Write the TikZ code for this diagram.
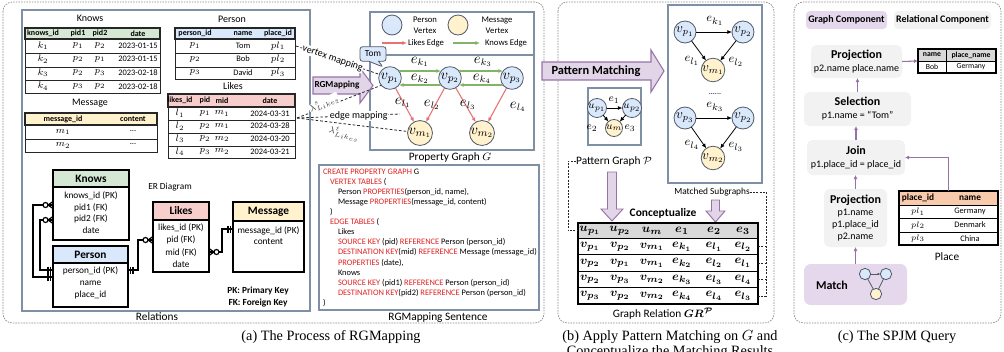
\documentclass[tikz,border=0pt]{standalone}
\usepackage{amsmath,bm}
\usepackage[no-math]{fontspec}
\setmainfont{Carlito}
\newfontfamily\capfont{Liberation Serif}
\usetikzlibrary{arrows.meta,shapes.callouts,fit,calc}
\definecolor{pblue}{HTML}{DAE8FC}
\definecolor{myel}{HTML}{FFF2CC}
\definecolor{kgreen}{HTML}{D5E8D4}
\definecolor{lred}{HTML}{F8CECC}
\definecolor{likeR}{HTML}{E57373}
\definecolor{knowG}{HTML}{82B366}
\definecolor{purF}{HTML}{E1D5E7}
\definecolor{purF2}{HTML}{E6D8EC}
\definecolor{purD}{HTML}{9673A6}
\definecolor{bordB}{HTML}{7F8FA6}
\definecolor{grayF}{HTML}{F2F2F2}
\definecolor{hdrG}{HTML}{D9D9D9}
\definecolor{orgF}{HTML}{F8CBAD}
\definecolor{sqlR}{HTML}{E02020}
\definecolor{vbord}{HTML}{505A68}
\newcommand\kw[1]{\textcolor{sqlR}{#1}}
\newcommand\fsz[2]{\fontsize{#1}{#2}\selectfont}
\begin{document}
\begin{tikzpicture}[x=0.75pt,y=-0.75pt,
 every node/.style={inner sep=0pt,outer sep=0pt},
 panel/.style={draw=black!45, dash pattern=on 1.2pt off 0.8pt, line width=0.5pt, rounded corners=7pt},
 sbox/.style={draw=bordB, line width=0.9pt},
 tb/.style={draw=black!85, line width=0.5pt},
 tbh/.style={draw=black!85, line width=0.9pt},
 ttl/.style={font=\fsz{7.5}{9}},
 lbl/.style={font=\fsz{8.5}{10}},
 hd/.style={font=\fsz{6}{7}\bfseries},
 celltxt/.style={font=\fsz{6.3}{7.5}},
 cellm/.style={font=\fsz{7}{8}},
 pv/.style={circle, draw=vbord, fill=pblue, line width=0.6pt},
 mv/.style={circle, draw=vbord, fill=myel, line width=0.6pt},
 gv/.style={minimum size=17pt, font=\fsz{11}{13}},
 msv/.style={minimum size=16.5pt, font=\fsz{10}{12}},
 pgv/.style={minimum size=12.75pt, font=\fsz{8}{9}},
 elab/.style={font=\fsz{10.5}{12}},
 mel/.style={font=\fsz{9.5}{11}},
 pel/.style={font=\fsz{8.5}{10}},
 knowE/.style={draw=knowG, line width=0.8pt, -{Latex[length=3.5pt,width=3pt]}},
 likeE/.style={draw=likeR, line width=0.8pt, -{Latex[length=3.5pt,width=3pt]}},
 blk/.style={draw=black, line width=0.6pt, -{Latex[length=3.5pt,width=3pt]}},
 mapln/.style={draw=black!85, dash pattern=on 2pt off 1.5pt, line width=0.6pt},
 mapdot/.style={draw=black!85, dash pattern=on 1.5pt off 1pt, line width=0.6pt},
 erl/.style={draw=black, line width=0.9pt},
 sqltxt/.style={anchor=west, font=\fsz{6.3}{7.5}},
 grc/.style={font=\fsz{9.5}{11}},
 gbox/.style={fill=grayF, rounded corners=4pt, align=center, font=\fsz{7.5}{9.75}},
 parr/.style={draw=purD, line width=0.8pt, -{Latex[length=3pt,width=3pt]}},
 bigarr/.style={fill=purF, draw=purD, line width=0.8pt},
 captxt/.style={font=\capfont\fsz{10.7}{13}},
 lam/.style={font=\fsz{7}{8}, text=black!75},
 zmany/.pic={
   \draw[erl] (0,-3.5) -- (5,0) -- (0,3.5) (0,0) -- (5,0);
   \draw[erl, fill=white] (7.5,0) circle[radius=2.5];
 },
 onebar/.pic={
   \draw[erl] (2.5,-3.5) -- (2.5,3.5) (5,-3.5) -- (5,3.5);
 }
]
\useasboundingbox (0,0) rectangle (1004,351);
% ---------------- panels
\draw[panel] (3,2) rectangle (544,323);
\draw[panel] (558,2) rectangle (774,323);
\draw[panel] (794,2) rectangle (1001,323);
% ---------------- (a) relations
\draw[sbox] (22,10) rectangle (310,311);
\node[lbl] (relL) at (157,317) {Relations};
% Knows table
\node[ttl] (knT) at (90,18) {Knows};
\fill[kgreen] (25,28) rectangle (160,39);
\draw[tb] (25,28) rectangle (160,93);
\draw[tbh] (25,28) rectangle (160,39);
\foreach \y in {53,67,80} \draw[tb] (25,\y) -- (160,\y);
\foreach \t/\x [count=\i] in {knows\_id/43, pid1/78, pid2/100, date/138}
  \node[hd] (knh-\i) at (\x,33.5) {\t};
\foreach \a/\b/\c/\d [count=\i] in {k_1/p_1/p_2/2023-01-15, k_2/p_2/p_1/2023-01-15, k_3/p_2/p_3/2023-02-18, k_4/p_3/p_2/2023-02-18} {
  \pgfmathsetmacro\yy{39+13.5*(\i-0.5)}
  \node[cellm] (kn-\i-1) at (43,\yy) {$\a$};
  \node[cellm] (kn-\i-2) at (78,\yy) {$\b$};
  \node[cellm] (kn-\i-3) at (100,\yy) {$\c$};
  \node[celltxt] (kn-\i-4) at (138,\yy) {\d};
}
% Message table
\node[ttl] (msT) at (90,103) {Message};
\fill[myel] (25,113) rectangle (157,125);
\draw[tb] (25,113) rectangle (157,152);
\draw[tbh] (25,113) rectangle (157,125);
\draw[tb] (25,139) -- (157,139);
\node[hd] (msh-1) at (63,119) {message\_id};
\node[hd] (msh-2) at (133,119) {content};
\node[cellm] (ms-1-1) at (63,132) {$m_1$};
\node[celltxt] (ms-1-2) at (133,131) {...};
\node[cellm] (ms-2-1) at (63,145.5) {$m_2$};
\node[celltxt] (ms-2-2) at (133,144.5) {...};
% Person table
\node[ttl] (peT) at (232,19) {Person};
\fill[pblue] (175,28) rectangle (295,39);
\draw[tb] (175,28) rectangle (295,79);
\draw[tbh] (175,28) rectangle (295,39);
\foreach \y in {53,67} \draw[tb] (175,\y) -- (295,\y);
\foreach \t/\x [count=\i] in {person\_id/195, name/243, place\_id/278}
  \node[hd] (peh-\i) at (\x,33.5) {\t};
\foreach \a/\b/\c [count=\i] in {p_1/Tom/pl_1, p_2/Bob/pl_2, p_3/David/pl_3} {
  \pgfmathsetmacro\yy{39+13.4*(\i-0.5)}
  \node[cellm] (pe-\i-1) at (195,\yy) {$\a$};
  \node[celltxt] (pe-\i-2) at (243,\yy) {\b};
  \node[cellm] (pe-\i-3) at (278,\yy) {$\c$};
}
% Likes table
\node[ttl] (liT) at (233,86) {Likes};
\fill[lred] (168,94) rectangle (295,107);
\draw[tb] (168,94) rectangle (295,158);
\draw[tbh] (168,94) rectangle (295,107);
\foreach \y in {120,133,146} \draw[tb] (168,\y) -- (295,\y);
\foreach \t/\x [count=\i] in {likes\_id/180, pid/205, mid/222, date/270}
  \node[hd] (lih-\i) at (\x,100.5) {\t};
\foreach \a/\b/\c/\d [count=\i] in {l_1/p_1/m_1/2024-03-31, l_2/p_2/m_1/2024-03-28, l_3/p_2/m_2/2024-03-20, l_4/p_3/m_2/2024-03-21} {
  \pgfmathsetmacro\yy{107+12.75*(\i-0.5)}
  \node[cellm] (li-\i-1) at (180,\yy) {$\a$};
  \node[cellm] (li-\i-2) at (205,\yy) {$\b$};
  \node[cellm] (li-\i-3) at (222,\yy) {$\c$};
  \node[celltxt] (li-\i-4) at (270,\yy) {\d};
}
% ---------------- ER diagram
\node[font=\fsz{7}{8}] (erL) at (170,187) {ER Diagram};
\fill[kgreen] (53,170) rectangle (129,187);
\fill[pblue] (53,246) rectangle (128,263);
\fill[lred] (153,202) rectangle (209,220);
\fill[myel] (233,202) rectangle (304,221);
\node[fit={(53,170)(129,240)}, draw, line width=0.9pt] (erK) {};
\node[fit={(53,246)(128,307)}, draw, line width=0.9pt] (erP) {};
\node[fit={(153,202)(209,272)}, draw, line width=0.9pt] (erLk) {};
\node[fit={(233,202)(304,272)}, draw, line width=0.9pt] (erM) {};
\draw[line width=0.9pt] (53,187) -- (129,187) (53,263) -- (128,263) (153,220) -- (209,220) (233,221) -- (304,221);
\node[font=\fsz{8.5}{10}\bfseries] (erKh) at (91,178.5) {Knows};
\node[font=\fsz{8.5}{10}\bfseries] (erPh) at (90.5,254.5) {Person};
\node[font=\fsz{8.5}{10}\bfseries] (erLh) at (181,211) {Likes};
\node[font=\fsz{8.5}{10}\bfseries] (erMh) at (268.5,211.5) {Message};
\node[font=\fsz{7}{8.8}, align=center] (erKb) at (91,212.5) {knows\_id (PK)\\pid1 (FK)\\pid2 (FK)\\date};
\node[font=\fsz{7}{9}, align=center] (erPb) at (90.5,283) {person\_id (PK)\\name\\place\_id};
\node[font=\fsz{7}{9.2}, align=center] (erLb) at (181,245.5) {likes\_id (PK)\\pid (FK)\\mid (FK)\\date};
\node[font=\fsz{7}{8.3}, align=center] (erMb) at (268.5,235.5) {message\_id (PK)\\content};
\node[font=\fsz{7}{9}\bfseries, align=center] (pkfk) at (258,297) {PK: Primary Key\\FK: Foreign Key};
\draw[erl] (erK.west |- 0,205) -- (33,205) |- (erP.west |- 0,277);
\draw[erl] (erK.west |- 0,220) -- (40,220) |- (erP.west |- 0,270);
\draw[erl] (erP.east |- 0,270) -- (138,270) |- (erLk.west |- 0,240);
\draw[erl] (erLk.east |- 0,252) -- (222,252) |- (erM.west |- 0,229);
\pic[xscale=-1] at (erK.west |- 0,205) {zmany};
\pic[xscale=-1] at (erK.west |- 0,220) {zmany};
\pic[xscale=-1] at (erP.west |- 0,277) {onebar};
\pic[xscale=-1] at (erP.west |- 0,270) {onebar};
\pic at (erP.east |- 0,270) {onebar};
\pic[xscale=-1] at (erLk.west |- 0,240) {zmany};
\pic at (erLk.east |- 0,252) {zmany};
\pic[xscale=-1] at (erM.west |- 0,229) {onebar};
% ---------------- property graph
\draw[sbox] (370,12) rectangle (534,150);
\draw[sbox] (370,55) -- (534,55);
\node[lbl] (pgL) at (450,157) {Property Graph $G$};
\node[pv, minimum size=15pt] (lgP) at (392,25) {};
\node[font=\fsz{6.5}{8}, align=center] (lgPt) at (425,25) {Person\\Vertex};
\node[mv, minimum size=15pt] (lgM) at (458,25) {};
\node[font=\fsz{6.5}{8}, align=center] (lgMt) at (497,25) {Message\\Vertex};
\coordinate (lgL1) at (382,43); \coordinate (lgL2) at (407,43);
\draw[likeE] (lgL1) -- (lgL2);
\node[font=\fsz{6.5}{8}] (lgLt) at (426,43) {Likes Edge};
\coordinate (lgK1) at (453,43); \coordinate (lgK2) at (480,43);
\draw[knowE] (lgK1) -- (lgK2);
\node[font=\fsz{6.5}{8}] (lgKt) at (506,43) {Knows Edge};
\node[pv, gv] (vp1) at (390,78) {$v_{p_1}$};
\node[pv, gv] (vp2) at (450,78) {$v_{p_2}$};
\node[pv, gv] (vp3) at (512,78) {$v_{p_3}$};
\node[mv, gv] (vm1) at (420,133) {$v_{m_1}$};
\node[mv, gv] (vm2) at (482,133) {$v_{m_2}$};
\draw[knowE] (vp1.38) -- (vp2.142);
\draw[knowE] (vp2.218) -- (vp1.322);
\draw[knowE] (vp2.38) -- (vp3.142);
\draw[knowE] (vp3.218) -- (vp2.322);
\draw[likeE] (vp1) -- (vm1);
\draw[likeE] (vp2) -- (vm1);
\draw[likeE] (vp2) -- (vm2);
\draw[likeE] (vp3) -- (vm2);
\node[elab] (ek1) at (420,62) {$e_{k_1}$};
\node[elab] (ek2) at (420,79) {$e_{k_2}$};
\node[elab] (ek3) at (483,62) {$e_{k_3}$};
\node[elab] (ek4) at (482,79) {$e_{k_4}$};
\node[elab] (el1) at (403,103) {$e_{l_1}$};
\node[elab] (el2) at (432,105) {$e_{l_2}$};
\node[elab] (el3) at (468,105) {$e_{l_3}$};
\node[elab] (el4) at (518,107) {$e_{l_4}$};
% RGMapping arrow
\draw[bigarr] (313,77) -- (360,77) -- (360,68) -- (373,85.5) -- (360,103) -- (360,94) -- (313,94) -- cycle;
\node[font=\fsz{6.9}{8}\bfseries] (rgm) at (337,85.5) {RGMapping};
% mappings
\coordinate (perR) at (296,46);
\draw[mapln] (perR) -- (vp1) node[pos=0.44, sloped, fill=white, inner sep=0.5pt, font=\fsz{7.5}{9}] (vmapT) {vertex mapping};
\node[rectangle callout, rounded corners=2pt, draw=vbord, fill=pblue, line width=0.6pt, minimum width=19.5pt, minimum height=11pt, font=\fsz{7}{8}, callout absolute pointer={(383,67)}] (tom) at (373,54) {Tom};
\coordinate (likR) at (297,118);
\coordinate (emEnd) at (400,114);
\draw[mapln] (likR) -- (vp1.220);
\draw[mapln] (likR) -- (vm1);
\node[lam, rotate=27, fill=white, inner sep=0.3pt] (lamS) at (324,103.5) {$\lambda^{s}_{Likes}$};
\node[lam, rotate=-14, fill=white, inner sep=0.3pt] (lamT) at (344,133.5) {$\lambda^{t}_{Likes}$};
\draw[mapln] (likR) -- (emEnd) node[pos=0.6, fill=white, inner sep=0.5pt, font=\fsz{7.5}{9}] (emT) {edge mapping};
% sentence
\draw[sbox] (319,165) rectangle (539,310);
\node[lbl] (sentL) at (438,318) {RGMapping Sentence};
\node[sqltxt] (s1) at (323,172) {\kw{CREATE PROPERTY GRAPH} G};
\node[sqltxt] (s2) at (330,182) {\kw{VERTEX TABLES} (};
\node[sqltxt] (s3) at (338,192) {Person \kw{PROPERTIES}(person\_id, name),};
\node[sqltxt] (s4) at (338,202) {Message \kw{PROPERTIES}(message\_id, content)};
\node[sqltxt] (s5) at (330,212) {)};
\node[sqltxt] (s6) at (330,222) {\kw{EDGE TABLES} (};
\node[sqltxt] (s7) at (338,232) {Likes};
\node[sqltxt] (s8) at (338,242) {\kw{SOURCE KEY} (pid) \kw{REFERENCE} Person (person\_id)};
\node[sqltxt] (s9) at (338,252) {\kw{DESTINATION KEY}(mid) \kw{REFERENCE} Message (message\_id)};
\node[sqltxt] (s10) at (338,263) {\kw{PROPERTIES} (date),};
\node[sqltxt] (s11) at (338,273) {Knows};
\node[sqltxt] (s12) at (338,283) {\kw{SOURCE KEY} (pid1) \kw{REFERENCE} Person (person\_id)};
\node[sqltxt] (s13) at (338,293) {\kw{DESTINATION KEY}(pid2) \kw{REFERENCE} Person (person\_id)};
\node[sqltxt] (s14) at (323,303) {)};
% ---------------- (b)
\draw[bigarr] (542,62) -- (651,62) -- (651,50) -- (664,71) -- (651,92) -- (651,80) -- (542,80) -- cycle;
\node[font=\fsz{9.3}{11}\bfseries] (pmT) at (596,71) {Pattern Matching};
% pattern graph
\draw[sbox] (588,88) rectangle (641,145);
\node[pv, pgv] (up1) at (597,108) {$u_{p_1}$};
\node[pv, pgv] (up2) at (632,108) {$u_{p_2}$};
\node[mv, pgv] (um) at (614,128) {$u_m$};
\draw[blk] (up1) -- (up2);
\draw[blk] (up1) -- (um);
\draw[blk] (up2) -- (um);
\node[pel] (pe1) at (614,100) {$e_1$};
\node[pel] (pe2) at (592,128) {$e_2$};
\node[pel] (pe3) at (630,128) {$e_3$};
\node[font=\fsz{8.5}{10}] (pgpL) at (614,161) {Pattern Graph $\mathcal{P}$};
% matched subgraphs
\draw[sbox] (668,5) rectangle (762,183);
\node[pv, msv] (a1) at (685,32) {$v_{p_1}$};
\node[pv, msv] (a2) at (743,32) {$v_{p_2}$};
\node[mv, msv] (a3) at (713,70) {$v_{m_1}$};
\draw[blk] (a1) -- (a2);
\draw[blk] (a1) -- (a3);
\draw[blk] (a2) -- (a3);
\node[mel] (ae1) at (715,21) {$e_{k_1}$};
\node[mel] (ae2) at (692,61) {$e_{l_1}$};
\node[mel] (ae3) at (736,62) {$e_{l_2}$};
\node[font=\fsz{6}{7}] (dots) at (715,94) {......};
\node[pv, msv] (b1) at (685,118) {$v_{p_3}$};
\node[pv, msv] (b2) at (743,118) {$v_{p_2}$};
\node[mv, msv] (b3) at (713,158) {$v_{m_2}$};
\draw[blk] (b1) -- (b2);
\draw[blk] (b1) -- (b3);
\draw[blk] (b2) -- (b3);
\node[mel] (be1) at (715,107) {$e_{k_3}$};
\node[mel] (be2) at (692,145) {$e_{l_4}$};
\node[mel] (be3) at (736,147) {$e_{l_3}$};
\node[font=\fsz{7}{8.5}] (msL) at (712,192) {Matched Subgraphs};
% down arrows
\draw[bigarr, line width=0.7pt] (607.5,172) -- (616.5,172) -- (616.5,209) -- (623,209) -- (612,221) -- (601,209) -- (607.5,209) -- cycle;
\draw[bigarr, line width=0.7pt] (711.5,200) -- (719.5,200) -- (719.5,211) -- (725,211) -- (715.5,222) -- (706,211) -- (711.5,211) -- cycle;
\node[font=\fsz{8.6}{10}\bfseries] (concT) at (663,213) {Conceptualize};
% graph relation table
\fill[hdrG] (578,223) rectangle (758,238.5);
\node[fit={(578,223)(758,304)}, draw, line width=0.8pt] (grT) {};
\foreach \y in {238.5,254.9,271.3,287.7} \draw[line width=0.8pt] (578,\y) -- (758,\y);
\foreach \t/\x [count=\i] in {u_{p_1}/590, u_{p_2}/620, u_m/652, e_1/682, e_2/714, e_3/743}
  \node[grc] (grh-\i) at (\x,230.75) {$\bm{\t}$};
\foreach \qa/\qb/\qc/\qd/\qe/\qf [count=\i] in {
  v_{p_1}/v_{p_2}/v_{m_1}/e_{k_1}/e_{l_1}/e_{l_2},
  v_{p_2}/v_{p_1}/v_{m_1}/e_{k_2}/e_{l_2}/e_{l_1},
  v_{p_2}/v_{p_3}/v_{m_2}/e_{k_3}/e_{l_3}/e_{l_4},
  v_{p_3}/v_{p_2}/v_{m_2}/e_{k_4}/e_{l_4}/e_{l_3}} {
  \pgfmathsetmacro\yy{238.5+16.4*(\i-0.5)}
  \node[grc] (gr-\i-1) at (590,\yy) {$\bm{\qa}$};
  \node[grc] (gr-\i-2) at (620,\yy) {$\bm{\qb}$};
  \node[grc] (gr-\i-3) at (652,\yy) {$\bm{\qc}$};
  \node[grc] (gr-\i-4) at (682,\yy) {$\bm{\qd}$};
  \node[grc] (gr-\i-5) at (714,\yy) {$\bm{\qe}$};
  \node[grc] (gr-\i-6) at (743,\yy) {$\bm{\qf}$};
}
\node[lbl] (grL) at (663,314) {Graph Relation $\bm{GR}^{\bm{\mathcal{P}}}$};
% brackets
\draw[mapdot] (pgpL.west) -- (568,161) |- (grT.west |- 0,230.75);
\draw[mapdot] (msL.east) -| (766,295.9) -- (grT.east |- 0,295.9);
\foreach \y in {246.7,263.1,279.5} \draw[mapdot] (grT.east |- 0,\y) -- (766,\y);
% ---------------- (c)
\node[font=\fsz{7.5}{9}\bfseries, fill=purF2, rounded corners=3pt, minimum width=60.75pt, minimum height=13.5pt] (gc) at (846.5,20) {Graph Component};
\node[font=\fsz{7.5}{9}\bfseries, fill=grayF, rounded corners=3pt, minimum width=72.75pt, minimum height=13.5pt] (rc) at (942.5,20) {Relational Component};
\node[gbox, minimum width=68.25pt, minimum height=24.75pt] (proj1) at (856.5,61.5) {{\fsz{9}{9.75}\bfseries Projection}\\p2.name place.name};
\node[gbox, minimum width=80.25pt, minimum height=25.5pt] (sel) at (857.5,109) {{\fsz{9}{9.75}\bfseries Selection}\\p1.name = “Tom”};
\node[gbox, minimum width=73.5pt, minimum height=26.25pt] (join) at (856,157.5) {{\fsz{9}{9.75}\bfseries Join}\\p1.place\_id = place\_id};
\node[gbox, font=\fsz{7.5}{9}, minimum width=47.25pt, minimum height=43.5pt] (proj2) at (855.5,218) {{\fsz{9}{9}\bfseries Projection}\\p1.name\\p1.place\_id\\p2.name};
\node[fill=purF2, rounded corners=5pt, minimum width=77.25pt, minimum height=30.75pt] (match) at (855.5,284.5) {};
\node[font=\fsz{9}{10}\bfseries] (matchT) at (832,285) {Match};
\node[pv, minimum size=8.5pt] (mg1) at (865,274) {};
\node[pv, minimum size=8.5pt] (mg2) at (886,274) {};
\node[mv, minimum size=8.5pt] (mg3) at (876,294) {};
\draw[draw=vbord, line width=0.6pt, -{Latex[length=2pt,width=2pt]}] (mg1) -- (mg2);
\draw[draw=vbord, line width=0.6pt] (mg1) -- (mg3) (mg2) -- (mg3);
% result table
\fill[hdrG] (918,49) rectangle (996,61);
\node[fit={(918,49)(996,73)}, draw, line width=0.8pt] (resT) {};
\draw[line width=0.6pt] (918,61) -- (996,61) (946,49) -- (946,73);
\node[font=\fsz{5.8}{7}\bfseries] (rh1) at (932,55) {name};
\node[font=\fsz{5.8}{7}\bfseries] (rh2) at (971,55) {place\_name};
\node[font=\fsz{5.8}{7}] (rc1) at (932,67) {Bob};
\node[font=\fsz{5.8}{7}] (rc2) at (971,67) {Germany};
% place table
\fill[orgF] (899,191) rectangle (998,205);
\node[fit={(899,191)(998,245)}, draw, line width=0.8pt] (placeT) {};
\foreach \y in {205,218.5,232} \draw[line width=0.6pt] (899,\y) -- (998,\y);
\node[font=\fsz{7}{8}\bfseries] (plh1) at (918,198) {place\_id};
\node[font=\fsz{7}{8}\bfseries] (plh2) at (970,198) {name};
\foreach \a/\b [count=\i] in {pl_1/Germany, pl_2/Denmark, pl_3/China} {
  \pgfmathsetmacro\yy{205+13.33*(\i-0.5)}
  \node[font=\fsz{6.5}{7.5}] (pl-\i-1) at (918,\yy) {$\a$};
  \node[font=\fsz{6.3}{7.5}] (pl-\i-2) at (970,\yy) {\b};
}
\node[lbl] (plL) at (947,257) {Place};
% arrows (c)
\draw[parr] (match.north) -- (proj2.south);
\draw[parr] (proj2.north) -- (proj2.north |- join.south);
\draw[parr] (join.north) -- (join.north |- sel.south);
\draw[parr] (sel.north) -- (sel.north |- proj1.south);
\draw[parr] (proj1.east) -- (resT.west);
\draw[parr] (placeT.north) |- (join.east);
% ---------------- captions
\node[captxt] (capA) at (331,337) {(a) The Process of RGMapping};
\node[captxt] (capB) at (670,337) {(b) Apply Pattern Matching on $G$ and};
\node[captxt] (capB2) at (670,352) {Conceptualize the Matching Results};
\node[captxt] (capC) at (897,337) {(c) The SPJM Query};
\end{tikzpicture}
\end{document}
